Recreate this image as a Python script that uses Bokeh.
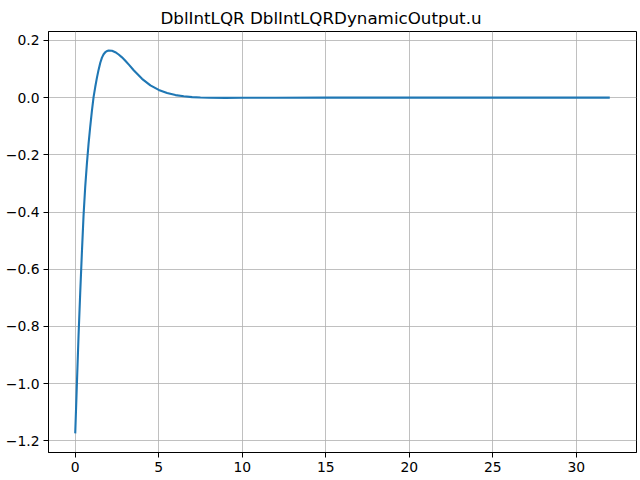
# Requirements: pip3 install bokeh

from bokeh.embed import file_html
from bokeh.models import CustomJSTickFormatter, FixedTicker, Range1d, Title
from bokeh.plotting import figure
from bokeh.resources import INLINE

# values
t = [0.0, 0.1, 0.2, 0.3, 0.4, 0.5, 0.6, 0.7, 0.8, 0.9, 1.0, 1.1, 1.2, 1.3,
     1.4, 1.5, 1.6, 1.7, 1.8, 1.9, 2.0, 2.2, 2.4, 2.6, 2.8, 3.0, 3.25, 3.5,
     3.75, 4.0, 4.5, 5.0, 5.5, 6.0, 6.5, 7.0, 7.5, 8.0, 9.0, 10.0, 12.0,
     15.0, 20.0, 25.0, 32.0]
u = [-1.174, -1.0, -0.83, -0.68, -0.54, -0.41, -0.31, -0.23, -0.16, -0.10,
     -0.045, 0.003, 0.038, 0.07, 0.098, 0.122, 0.140, 0.152, 0.159, 0.163,
     0.1645, 0.164, 0.159, 0.151, 0.141, 0.129, 0.113, 0.096, 0.081, 0.066,
     0.043, 0.027, 0.016, 0.009, 0.005, 0.002, 0.0005, -0.0003, -0.0006,
     -0.0004, -0.0001, 0.0, 0.0, 0.0, 0.0]

x_ticks = [0, 5, 10, 15, 20, 25, 30]
y_ticks = [-1.2, -1.0, -0.8, -0.6, -0.4, -0.2, 0.0, 0.2]
title = "DblIntLQR DblIntLQRDynamicOutput.u"

# matplotlib-like 5% margins
xpad = (max(t) - min(t)) * 0.05
ypad = (max(u) - min(u)) * 0.05

p = figure(width=640, height=480, output_backend="svg", toolbar_location=None,
           x_range=Range1d(min(t) - xpad, max(t) + xpad),
           y_range=Range1d(min(u) - ypad, max(u) + ypad),
           min_border_left=48, min_border_right=4,
           min_border_top=31, min_border_bottom=28)
p.title = Title(text=title, align="left", offset=112, standoff=8,
                text_font="DejaVu Sans", text_font_size="16.7px",
                text_font_style="normal", text_color="black")

p.line(t, u, line_color="#1f77b4", line_width=2.1)

p.outline_line_color = "black"
p.outline_line_width = 1
p.background_fill_color = "white"
p.border_fill_color = "white"

p.xaxis.ticker = FixedTicker(ticks=x_ticks)
p.yaxis.ticker = FixedTicker(ticks=y_ticks)
p.yaxis.formatter = CustomJSTickFormatter(
    code="return tick.toFixed(1).replace('-', '\u2212');")

for ax in (p.xaxis, p.yaxis):
    ax.axis_line_color = "black"
    ax.major_tick_line_color = "black"
    ax.major_tick_out = 5
    ax.major_tick_in = 0
    ax.minor_tick_line_color = None
    ax.major_label_standoff = 4
    ax.major_label_text_font = "DejaVu Sans"
    ax.major_label_text_font_size = "13.9px"
    ax.major_label_text_color = "black"

for g in (p.xgrid, p.ygrid):
    g.grid_line_color = "#b0b0b0"
    g.grid_line_width = 0.8
p.xgrid.ticker = FixedTicker(ticks=x_ticks)
p.ygrid.ticker = FixedTicker(ticks=y_ticks)

open("out.html", "w").write(file_html(p, INLINE))
